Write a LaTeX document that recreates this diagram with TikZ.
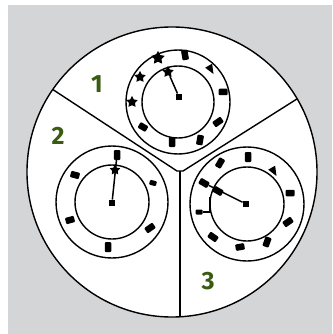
\documentclass[tikz,border=0pt]{standalone}
\usepackage{fontspec}
\setsansfont{Fira Sans}
\usetikzlibrary{shapes.geometric}
\definecolor{bg}{RGB}{211,213,215}
\definecolor{lbl}{RGB}{58,92,18}
\begin{document}
\begin{tikzpicture}[x=1pt,y=-1pt,
  ring/.style={draw=black, line width=1.4pt},
  divider/.style={draw=black, line width=1.4pt},
  hand/.style={draw=black, line width=1.5pt},
  blob/.style={rectangle, rounded corners=1pt, fill=black, draw=none, inner sep=0pt, minimum width=9pt, minimum height=6.5pt},
  tallblob/.style={rectangle, rounded corners=1pt, fill=black, draw=none, inner sep=0pt, minimum width=6.5pt, minimum height=10pt},
  starblob/.style={star, star points=5, star point ratio=1.9, fill=black, draw=none, inner sep=0pt, minimum size=12pt},
  triblob/.style={isosceles triangle, fill=black, draw=none, inner sep=0pt, minimum width=8pt, minimum height=8pt},
  hub/.style={rectangle, fill=black, draw=none, inner sep=0pt, minimum size=6.5pt},
  numlbl/.style={text=lbl, font=\sffamily\bfseries\fontsize{25}{25}\selectfont, inner sep=0pt}]
\useasboundingbox (0,0) rectangle (332,334);
\fill[white] (0,0) rectangle (332,334);
\fill[bg] (8,5) rectangle (332,334);
% big circle
\draw[ring, fill=white] (172,172) circle[radius=145];
% dividers
\coordinate (dl) at (52.6,89.4);
\coordinate (dr) at (297.2,98.8);
\coordinate (db) at (180,316.8);
\coordinate (jl) at (177,171);
\coordinate (jr) at (183,171);
\coordinate (jm) at (180,171);
\draw[divider] (dl) -- (jl) -- (jr) -- (dr);
\draw[divider] (jm) -- (db);
% clock 1
\coordinate (c1) at (178,102);
\draw[ring] (c1) circle[radius=52];
\draw[ring] (c1) circle[radius=36];
\node[hub] (h1) at (179,97) {};
\node[starblob] (a1) at (168,72) {};
\draw[hand] (h1) -- (a1);
\node[starblob, minimum size=14pt] (b1) at (158,58) {};
\node[tallblob, rotate=10] (b2) at (185,55) {};
\node[triblob, rotate=-60] (b3) at (210,68) {};
\node[blob] (b4) at (223,92) {};
\node[blob, rotate=35, minimum width=10pt] (b5) at (218,122) {};
\node[tallblob, rotate=-10] (b6) at (200,140) {};
\node[tallblob] (b7) at (172,142) {};
\node[blob, rotate=-30] (b8) at (143,127) {};
\node[starblob] (b9) at (132,102) {};
\node[starblob] (b10) at (140,77) {};
% clock 2
\coordinate (c2) at (112,202);
\draw[ring] (c2) circle[radius=56];
\draw[ring] (c2) circle[radius=37];
\node[hub] (h2) at (112,203) {};
\node[tallblob] (a2) at (117,155) {};
\draw[hand] (h2) -- (a2);
\node[starblob, minimum size=11pt] (e1) at (115,170) {};
\node[blob, rotate=-15] (e2) at (75,175) {};
\node[blob, rotate=-15, minimum width=7pt, minimum height=5pt] (e3) at (153,183) {};
\node[blob, rotate=15] (e4) at (70,220) {};
\node[blob, rotate=35, minimum width=10pt] (e5) at (150,228) {};
\node[tallblob] (e6) at (108,247) {};
% clock 3
\coordinate (c3) at (247,204);
\draw[ring] (c3) circle[radius=57];
\draw[ring] (c3) circle[radius=37];
\node[hub] (h3) at (246,204) {};
\node[blob, rotate=-30, minimum width=10pt] (a3) at (204,183) {};
\draw[hand] (h3) -- (a3);
\node[blob, rotate=-30, minimum width=10pt] (f1) at (218,191) {};
\node[tallblob] (f2) at (248,157) {};
\node[tallblob, rotate=-30] (f3) at (220,163) {};
\node[triblob, rotate=-60] (f4) at (273,170) {};
\node[blob] (f5) at (290,193) {};
\node[blob, rotate=35, minimum width=10pt] (f6) at (288,222) {};
\node[tallblob, rotate=-20] (f7) at (267,242) {};
\node[blob, rotate=10] (f8) at (240,247) {};
\node[blob, rotate=-35, minimum width=10pt] (f9) at (213,237) {};
\node[blob, minimum width=7pt, minimum height=5pt] (f10) at (199,212) {};
\coordinate (fk) at (210,212);
\coordinate (fu) at (210,197);
\draw[hand, line width=1.3pt] (f10) -- (fk) -- (fu);
% labels
\node[numlbl] (n1) at (97,84) {1};
\node[numlbl] (n2) at (58,136) {2};
\node[numlbl] (n3) at (208,281) {3};
\end{tikzpicture}
\end{document}
